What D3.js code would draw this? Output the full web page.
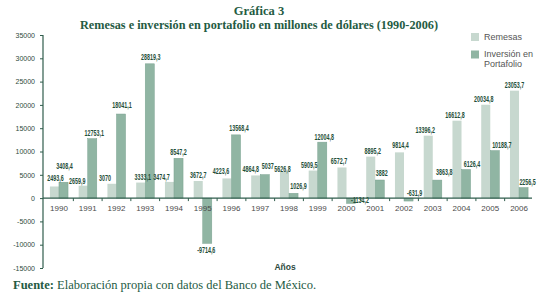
<!DOCTYPE html>
<html><head><meta charset="utf-8">
<script src="https://cdn.jsdelivr.net/npm/d3@7"></script>
<style>body{margin:0;background:#fff}svg{display:block}</style>
</head><body>
<script>
const years = ["1990","1991","1992","1993","1994","1995","1996","1997","1998","1999","2000","2001","2002","2003","2004","2005","2006"];
const remesas = [2493.6,2659.9,3070,3333.1,3474.7,3672.7,4223.6,4864.8,5626.8,5909.5,6572.7,8895.2,9814.4,13396.2,16612.8,20034.8,23053.7];
const inversion = [3408.4,12753.1,18041.1,28819.3,8547.2,-9714.6,13568.4,5037,1026.9,12004.8,-1134.2,3882,-631.9,3863.8,6126.4,10188.7,2256.5];
const yTicks = [35000,30000,25000,20000,15000,10000,5000,0,-5000,-10000,-15000];
const seriesNames = ["Remesas","Inversión en Portafolio"];
const title1 = "Gráfica 3";
const title2 = "Remesas e inversión en portafolio en millones de dólares (1990-2006)";

// label nudges (dx, dy) relative to default placement
const remNudge = [[1,-2],[-6,1],[-7,0],[2,0],[-8,1],[0,0],[-6,-1],[-5,0],[-2,3],[-4,0],[-3,0],[2,0],[1,-1],[-3,0],[-2,0],[-2,0],[0,0]];
const invNudge = [[1,-10],[2,0],[1,-3],[1,-1],[0,0],[-1,0],[3,-1],[3,-3],[5,-1],[2,1],[9,-10],[2,-1],[6,-15],[7,-2],[6,0],[7,0],[4,0]];

const W=547,H=301;
const svg=d3.select("body").append("svg").attr("width",W).attr("height",H);
const green="#245b43", axisCol="#2f5d4c", labCol="#1f4f3a";

const x=d3.scaleBand().domain(years).range([44.6,533.4]).paddingInner(0.37).paddingOuter(0.185);
const y=d3.scaleLinear().domain([-15000,35000]).range([268,35]);
const bw=x.bandwidth()/2;

// titles
svg.append("text").attr("x",259).attr("y",14.5).attr("text-anchor","middle")
  .attr("font-family","Liberation Serif").attr("font-weight","bold").attr("font-size",12.5).attr("fill",green).text(title1);
svg.append("text").attr("x",259).attr("y",28.5).attr("text-anchor","middle")
  .attr("font-family","Liberation Serif").attr("font-weight","bold").attr("font-size",12.5).attr("fill",green)
  .attr("textLength",358).attr("lengthAdjust","spacingAndGlyphs").text(title2);

// y axis
const yAxis=d3.axisLeft(y).tickValues(yTicks).tickSize(3).tickPadding(5).tickFormat(d=>String(d));
const gy=svg.append("g").attr("transform","translate(43,0)").call(yAxis);
gy.select(".domain").attr("stroke",axisCol).attr("stroke-width",1.2).attr("d","M0,35V268");
gy.selectAll(".tick line").attr("stroke",axisCol);
gy.selectAll(".tick text").attr("font-family","Liberation Sans").attr("font-size",7).attr("fill","#2d4a40");

// bars
const g=svg.append("g");
g.selectAll("rect.rem").data(remesas).join("rect").attr("class","rem")
  .attr("x",(d,i)=>x(years[i])).attr("width",bw)
  .attr("y",d=>y(Math.max(0,d))).attr("height",d=>Math.abs(y(d)-y(0)))
  .attr("fill","#c7d8cf");
g.selectAll("rect.inv").data(inversion).join("rect").attr("class","inv")
  .attr("x",(d,i)=>x(years[i])+bw).attr("width",bw)
  .attr("y",d=>y(Math.max(0,d))).attr("height",d=>Math.abs(y(d)-y(0)))
  .attr("fill","#90b5a3").attr("stroke","#7aa290").attr("stroke-width",0.5);

// x axis
const gx=svg.append("g").attr("transform",`translate(0,${y(0)})`);
gx.append("line").attr("x1",43).attr("x2",532).attr("stroke",axisCol).attr("stroke-width",1.2);
const bounds=years.slice(1).map((d)=>x(d)-x.step()*x.paddingInner()/2);
gx.selectAll("line.tk").data(bounds).join("line").attr("class","tk")
  .attr("x1",d=>d).attr("x2",d=>d).attr("y1",0).attr("y2",3).attr("stroke",axisCol);
gx.selectAll("text").data(years).join("text")
  .attr("x",d=>x(d)+x.bandwidth()/2).attr("y",13).attr("text-anchor","middle")
  .attr("font-family","Liberation Sans").attr("font-size",8).attr("fill","#4a4a4a").text(d=>d);

const fmt=v=>String(v).replace(".",",");
function label(sel){
  return sel.attr("font-family","Liberation Sans").attr("font-weight","bold").attr("font-size",8.5)
    .attr("text-anchor","middle").attr("fill",labCol);
}
label(g.selectAll("text.rl").data(remesas).join("text").attr("class","rl")
  .attr("transform",(d,i)=>`translate(${x(years[i])+bw/2+remNudge[i][0]},${y(d)-3+remNudge[i][1]}) scale(0.63,1)`)
  .text(fmt));
label(g.selectAll("text.il").data(inversion).join("text").attr("class","il")
  .attr("transform",(d,i)=>`translate(${x(years[i])+bw*1.5+invNudge[i][0]},${(d>=0? y(d)-3 : y(d)+10)+invNudge[i][1]}) scale(0.63,1)`)
  .text(fmt));

// legend
const leg=svg.append("g");
leg.append("rect").attr("x",471).attr("y",33).attr("width",8).attr("height",8).attr("fill","#c7d8cf");
leg.append("rect").attr("x",471).attr("y",50.5).attr("width",8).attr("height",8).attr("fill","#90b5a3");
leg.append("text").attr("x",484).attr("y",40.3).attr("font-family","Liberation Sans").attr("font-size",9).attr("fill","#555").text(seriesNames[0]);
const parts=seriesNames[1].split(" ");
leg.append("text").attr("x",484).attr("y",57.3).attr("font-family","Liberation Sans").attr("font-size",9).attr("fill","#555").text(parts.slice(0,2).join(" "));
leg.append("text").attr("x",484).attr("y",66.5).attr("font-family","Liberation Sans").attr("font-size",9).attr("fill","#555").text(parts[2]);

// x title
svg.append("text").attr("x",285).attr("y",270).attr("text-anchor","middle")
  .attr("font-family","Liberation Sans").attr("font-weight","bold").attr("font-size",8.5).attr("fill","#2d4a40").text("Años");

// source
const src=svg.append("text").attr("x",13).attr("y",289).attr("font-family","Liberation Serif").attr("font-size",12.5).attr("fill",green);
src.append("tspan").attr("font-weight","bold").text("Fuente:");
src.append("tspan").text(" Elaboración propia con datos del Banco de México.");
</script>
</body></html>
